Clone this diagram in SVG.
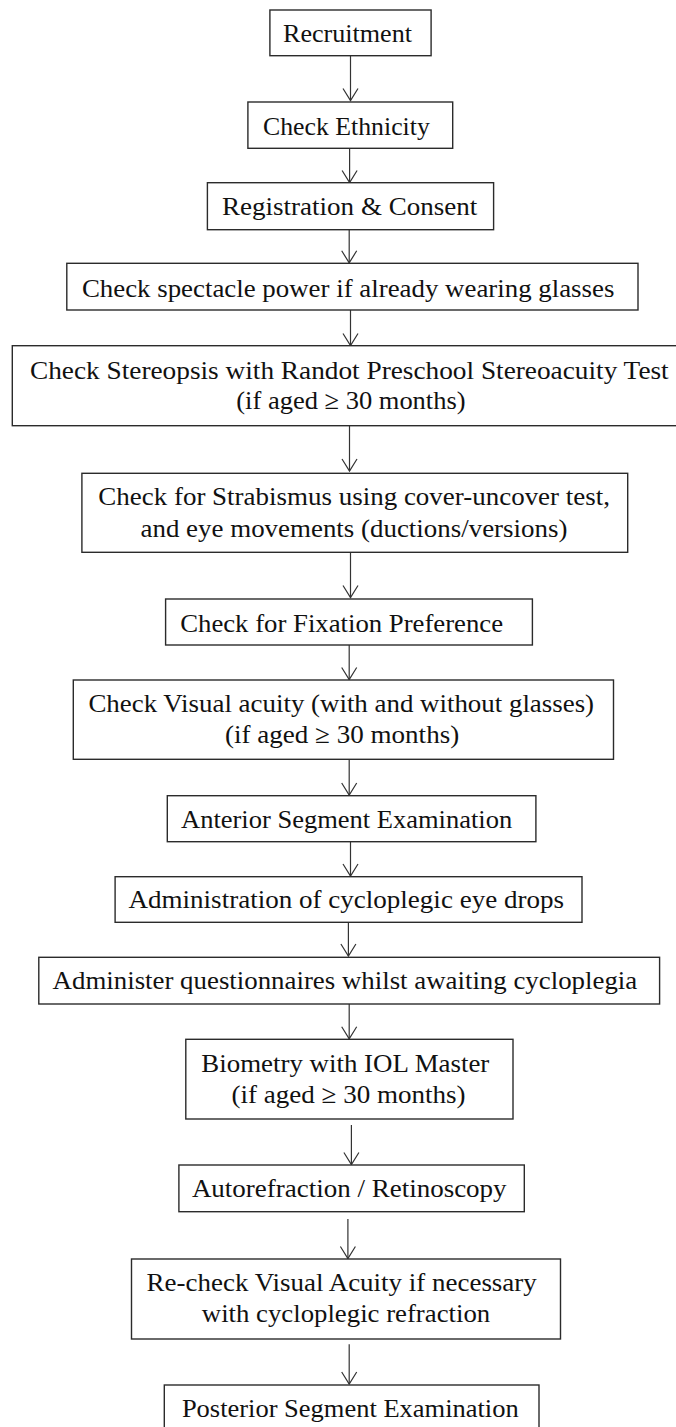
<svg xmlns="http://www.w3.org/2000/svg" width="676" height="1427" viewBox="0 0 676 1427">
<style>
  .box { fill: #ffffff; stroke: #2b2b2b; stroke-width: 1.4; }
  .t { font-family: "Liberation Serif", "Times New Roman", serif; font-size: 26px; fill: #111111; }
  .c { stroke: #333333; stroke-width: 1.2; fill: none; }
</style>
<defs>
  <marker id="arr" markerUnits="userSpaceOnUse" viewBox="-1 -9 15 18" markerWidth="15" markerHeight="18" refX="12" refY="0" orient="auto" overflow="visible">
    <path d="M0,-7.5 L12,0 L0,7.5" fill="none" stroke="#333333" stroke-width="1.2"/>
  </marker>
</defs>
<rect x="0" y="0" width="676" height="1427" fill="#ffffff"/>

<g id="connectors">
  <line class="c" x1="350.5" y1="55.7" x2="350.5" y2="100.5" marker-end="url(#arr)"/>
  <line class="c" x1="349.6" y1="148.3" x2="349.6" y2="182.5" marker-end="url(#arr)"/>
  <line class="c" x1="349.2" y1="229.7" x2="349.2" y2="262.8" marker-end="url(#arr)"/>
  <line class="c" x1="350.5" y1="310" x2="350.5" y2="345.5" marker-end="url(#arr)"/>
  <line class="c" x1="349.5" y1="425.7" x2="349.5" y2="471" marker-end="url(#arr)"/>
  <line class="c" x1="350.5" y1="552.3" x2="350.5" y2="597.5" marker-end="url(#arr)"/>
  <line class="c" x1="349.2" y1="645" x2="349.2" y2="679.5" marker-end="url(#arr)"/>
  <line class="c" x1="349.2" y1="759.3" x2="349.2" y2="795" marker-end="url(#arr)"/>
  <line class="c" x1="350.5" y1="841.7" x2="350.5" y2="876" marker-end="url(#arr)"/>
  <line class="c" x1="348.4" y1="922.3" x2="348.4" y2="956" marker-end="url(#arr)"/>
  <line class="c" x1="349.2" y1="1004" x2="349.2" y2="1038.8" marker-end="url(#arr)"/>
  <line class="c" x1="351.4" y1="1125" x2="351.4" y2="1164.5" marker-end="url(#arr)"/>
  <line class="c" x1="347.9" y1="1219" x2="347.9" y2="1258.5" marker-end="url(#arr)"/>
  <line class="c" x1="349.2" y1="1344.3" x2="349.2" y2="1384" marker-end="url(#arr)"/>
</g>

<g id="n1">
  <rect class="box" x="269.9" y="10" width="161.2" height="45.7"/>
  <text class="t" x="283" y="42.3" textLength="129" lengthAdjust="spacingAndGlyphs">Recruitment</text>
</g>
<g id="n2">
  <rect class="box" x="247.9" y="102" width="204.8" height="46.3"/>
  <text class="t" x="263" y="135" textLength="166.8" lengthAdjust="spacingAndGlyphs">Check Ethnicity</text>
</g>
<g id="n3">
  <rect class="box" x="207.4" y="182.7" width="286.2" height="47"/>
  <text class="t" x="222" y="215" textLength="255.3" lengthAdjust="spacingAndGlyphs">Registration &amp; Consent</text>
</g>
<g id="n4">
  <rect class="box" x="66.8" y="263.3" width="571.2" height="46.7"/>
  <text class="t" x="81.9" y="296.7" textLength="532.5" lengthAdjust="spacingAndGlyphs">Check spectacle power if already wearing glasses</text>
</g>
<g id="n5">
  <rect class="box" x="12.3" y="345.7" width="666" height="80"/>
  <text class="t" x="30" y="378.5" textLength="638.7" lengthAdjust="spacingAndGlyphs">Check Stereopsis with Randot Preschool Stereoacuity Test</text>
  <text class="t" x="236.3" y="408.5" textLength="229.3" lengthAdjust="spacingAndGlyphs">(if aged ≥ 30 months)</text>
</g>
<g id="n6">
  <rect class="box" x="81.9" y="473.3" width="545.8" height="79"/>
  <text class="t" x="98.3" y="505" textLength="511.7" lengthAdjust="spacingAndGlyphs">Check for Strabismus using cover-uncover test,</text>
  <text class="t" x="140.5" y="537.3" textLength="426.9" lengthAdjust="spacingAndGlyphs">and eye movements (ductions/versions)</text>
</g>
<g id="n7">
  <rect class="box" x="165.6" y="599" width="366.8" height="46"/>
  <text class="t" x="180.2" y="631.7" textLength="322.9" lengthAdjust="spacingAndGlyphs">Check for Fixation Preference</text>
</g>
<g id="n8">
  <rect class="box" x="73.3" y="680" width="540.2" height="79.3"/>
  <text class="t" x="88.4" y="711.7" textLength="505.7" lengthAdjust="spacingAndGlyphs">Check Visual acuity (with and without glasses)</text>
  <text class="t" x="225" y="743.3" textLength="234.2" lengthAdjust="spacingAndGlyphs">(if aged ≥ 30 months)</text>
</g>
<g id="n9">
  <rect class="box" x="167.3" y="795.7" width="368.6" height="46"/>
  <text class="t" x="181" y="827.7" textLength="331.2" lengthAdjust="spacingAndGlyphs">Anterior Segment Examination</text>
</g>
<g id="n10">
  <rect class="box" x="115.1" y="876.7" width="466.9" height="45.6"/>
  <text class="t" x="128.5" y="907.7" textLength="435.5" lengthAdjust="spacingAndGlyphs">Administration of cycloplegic eye drops</text>
</g>
<g id="n11">
  <rect class="box" x="38.8" y="957.3" width="620.8" height="46.7"/>
  <text class="t" x="52.6" y="989.3" textLength="584.6" lengthAdjust="spacingAndGlyphs">Administer questionnaires whilst awaiting cycloplegia</text>
</g>
<g id="n12">
  <rect class="box" x="185.8" y="1039.3" width="327.2" height="79.7"/>
  <text class="t" x="201.3" y="1071.7" textLength="288" lengthAdjust="spacingAndGlyphs">Biometry with IOL Master</text>
  <text class="t" x="231.5" y="1103.3" textLength="234.1" lengthAdjust="spacingAndGlyphs">(if aged ≥ 30 months)</text>
</g>
<g id="n13">
  <rect class="box" x="178.9" y="1165" width="345.4" height="46.7"/>
  <text class="t" x="191.9" y="1196.7" textLength="314.7" lengthAdjust="spacingAndGlyphs">Autorefraction / Retinoscopy</text>
</g>
<g id="n14">
  <rect class="box" x="131.5" y="1259" width="429" height="80"/>
  <text class="t" x="146.6" y="1291" textLength="390.2" lengthAdjust="spacingAndGlyphs">Re-check Visual Acuity if necessary</text>
  <text class="t" x="201.8" y="1322.3" textLength="288.4" lengthAdjust="spacingAndGlyphs">with cycloplegic refraction</text>
</g>
<g id="n15">
  <rect class="box" x="164.3" y="1385" width="374.7" height="50"/>
  <text class="t" x="181.9" y="1416.7" textLength="336.8" lengthAdjust="spacingAndGlyphs">Posterior Segment Examination</text>
</g>
</svg>
